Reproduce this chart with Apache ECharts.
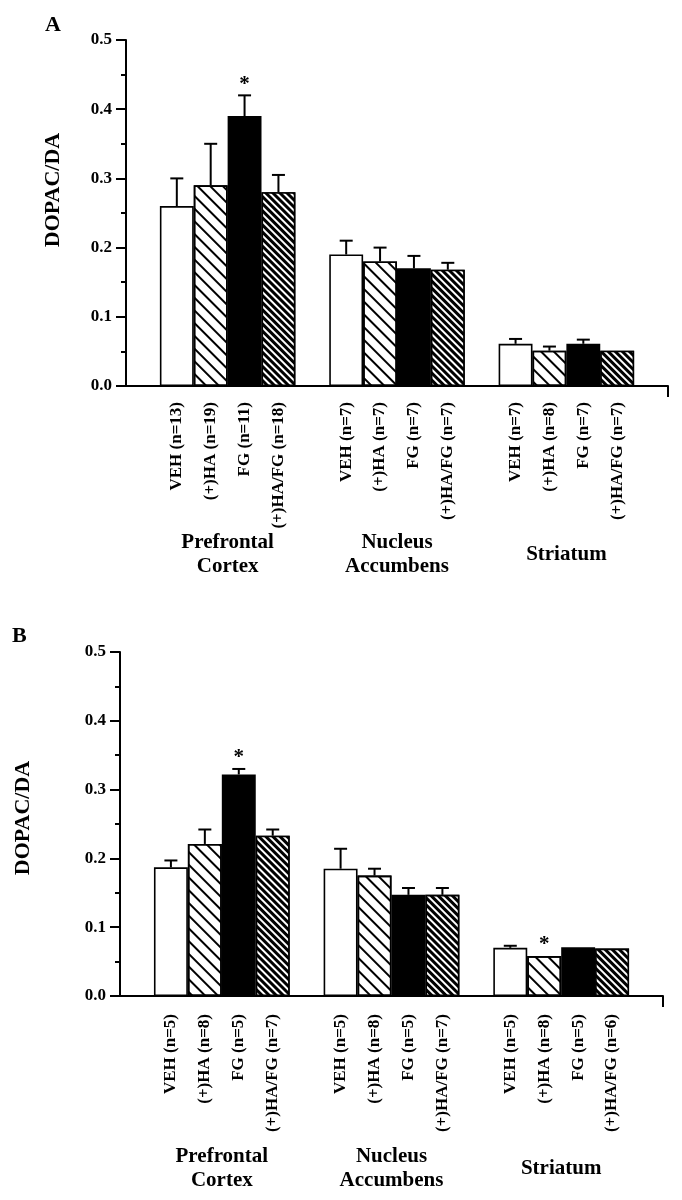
<!DOCTYPE html>
<html>
<head>
<meta charset="utf-8">
<script src="https://cdn.jsdelivr.net/npm/echarts@6/dist/echarts.min.js"></script>
<style>html,body{margin:0;padding:0;background:#fff}#c{width:682px;height:1200px}</style>
</head>
<body>
<div id="c"></div>
<script>
// ---- data ----
const regions = ['Prefrontal\nCortex', 'Nucleus\nAccumbens', 'Striatum'];
const treatments = ['VEH', '(+)HA', 'FG', '(+)HA/FG'];
const yTicks = [0, 0.1, 0.2, 0.3, 0.4, 0.5];

const nA = [[13, 19, 11, 18], [7, 7, 7, 7], [7, 8, 7, 7]];
const meanA = [[0.26, 0.29, 0.39, 0.28], [0.19, 0.18, 0.17, 0.168], [0.061, 0.051, 0.061, 0.051]];
const semA = [[0.04, 0.06, 0.03, 0.025], [0.02, 0.02, 0.018, 0.01], [0.007, 0.006, 0.006, 0.002]];
const sigA = [[0, 0, 1, 0], [0, 0, 0, 0], [0, 0, 0, 0]];

const nB = [[5, 8, 5, 7], [5, 8, 5, 7], [5, 8, 5, 6]];
const meanB = [[0.187, 0.221, 0.322, 0.233], [0.185, 0.175, 0.147, 0.147], [0.070, 0.058, 0.071, 0.069]];
const semB = [[0.010, 0.021, 0.008, 0.009], [0.029, 0.010, 0.010, 0.010], [0.003, 0.001, 0.002, 0.001]];
const sigB = [[0, 0, 1, 0], [0, 0, 0, 0], [0, 1, 0, 0]];

// ---- styles ----
const FONT = 'Liberation Serif';
const styles = [
  { color: '#fff', borderColor: '#000', borderWidth: 1.6 },
  { color: '#fff', borderColor: '#000', borderWidth: 1.6,
    decal: { symbol: 'rect', symbolSize: 1, color: '#000', dashArrayX: [1, 0], dashArrayY: [1.8, 6.5], rotation: Math.PI / 4 } },
  { color: '#000', borderColor: '#000', borderWidth: 1.6 },
  { color: '#000', borderColor: '#000', borderWidth: 1.6,
    decal: { symbol: 'rect', symbolSize: 1, color: '#fff', dashArrayX: [1, 0], dashArrayY: [1.4, 2.2], rotation: Math.PI / 4 } }
];

// 16 slots: blank, 4 bars, blank, 4 bars, blank, 4 bars, blank
function build(n, mean, sem, sig) {
  const cats = [], bars = [], errs = [];
  let slot = 0;
  cats.push(''); bars.push('-'); slot++;
  for (let g = 0; g < 3; g++) {
    for (let t = 0; t < 4; t++) {
      cats.push(treatments[t] + ' (n=' + n[g][t] + ')');
      bars.push({ value: mean[g][t], itemStyle: styles[t] });
      errs.push([slot, mean[g][t], mean[g][t] + sem[g][t], sig[g][t]]);
      slot++;
    }
    cats.push(''); bars.push('-'); slot++;
  }
  return { cats, bars, errs };
}
const A = build(nA, meanA, semA, sigA);
const B = build(nB, meanB, semB, sigB);
const groupPts = [];
for (let i = 0; i <= 16; i++) groupPts.push(i === 3 ? regions[0] : i === 8 ? regions[1] : i === 13 ? regions[2] : '');

function errRender(params, api) {
  const x = api.value(0);
  const p0 = api.coord([x, api.value(1)]);
  const p1 = api.coord([x, api.value(2)]);
  const ch = [];
  if (p0[1] - p1[1] > 1.5) {
    ch.push({ type: 'line', shape: { x1: p0[0], y1: p0[1], x2: p1[0], y2: p1[1] }, style: { stroke: '#000', lineWidth: 2 } });
    ch.push({ type: 'line', shape: { x1: p1[0] - 6.5, y1: p1[1], x2: p1[0] + 6.5, y2: p1[1] }, style: { stroke: '#000', lineWidth: 2 } });
  }
  if (api.value(3)) {
    ch.push({ type: 'text', style: { text: '*', x: p1[0], y: p1[1] - 11, align: 'center', verticalAlign: 'middle', font: 'bold 21px "' + FONT + '"', fill: '#000' } });
  }
  return { type: 'group', children: ch };
}

function yAxis(gridIndex, gap, pad) {
  return {
    type: 'value', gridIndex, min: 0, max: 0.5, interval: 0.1,
    name: 'DOPAC/DA', nameLocation: 'middle', nameGap: gap,
    nameTextStyle: { fontFamily: FONT, fontWeight: 'bold', fontSize: 22, color: '#000', padding: [0, 0, 0, pad] },
    axisLine: { show: true, lineStyle: { color: '#000', width: 2 } },
    axisTick: { show: true, length: 10, lineStyle: { color: '#000', width: 2 } },
    minorTick: { show: true, splitNumber: 2, length: 5, lineStyle: { color: '#000', width: 2 } },
    splitLine: { show: false },
    axisLabel: { fontFamily: FONT, fontWeight: 'bold', fontSize: 17, color: '#000', margin: 14, formatter: v => v.toFixed(1) }
  };
}
function barAxis(gridIndex, cats, margin) {
  return {
    type: 'category', gridIndex, data: cats, position: 'bottom',
    axisLine: { show: true, onZero: false, lineStyle: { color: '#000', width: 2 } },
    axisTick: { show: false },
    axisLabel: { interval: 0, rotate: 90, margin, fontFamily: FONT, fontWeight: 'bold', fontSize: 17, color: '#000' }
  };
}
function groupAxis(gridIndex, margin) {
  return {
    type: 'category', gridIndex, data: groupPts, boundaryGap: false, position: 'bottom',
    axisLine: { show: false, onZero: false },
    axisTick: { show: true, length: 11, interval: (i) => i === 16, lineStyle: { color: '#000', width: 2 } },
    axisLabel: { interval: 0, margin, verticalAlign: 'middle', align: 'center', lineHeight: 24,
      fontFamily: FONT, fontWeight: 'bold', fontSize: 21, color: '#000' }
  };
}

const option = {
  backgroundColor: '#fff',
  animation: false,
  title: [
    { text: 'A', left: 40, top: 9, textStyle: { fontFamily: FONT, fontWeight: 'bold', fontSize: 22, color: '#000' } },
    { text: 'B', left: 7, top: 620, textStyle: { fontFamily: FONT, fontWeight: 'bold', fontSize: 22, color: '#000' } }
  ],
  grid: [
    { left: 126, top: 40, width: 542, height: 346 },
    { left: 120, top: 652, width: 543, height: 344 }
  ],
  xAxis: [
    barAxis(0, A.cats, 16), groupAxis(0, 169),
    barAxis(1, B.cats, 18), groupAxis(1, 173)
  ],
  yAxis: [yAxis(0, 62, 46), yAxis(1, 86, 12)],
  series: [
    { type: 'bar', xAxisIndex: 0, yAxisIndex: 0, data: A.bars, barWidth: '100%', barGap: '0%' },
    { type: 'custom', xAxisIndex: 0, yAxisIndex: 0, data: A.errs, renderItem: errRender, encode: { x: 0, y: [1, 2] }, z: 5 },
    { type: 'bar', xAxisIndex: 2, yAxisIndex: 1, data: B.bars, barWidth: '100%', barGap: '0%' },
    { type: 'custom', xAxisIndex: 2, yAxisIndex: 1, data: B.errs, renderItem: errRender, encode: { x: 0, y: [1, 2] }, z: 5 }
  ]
};
const chart = echarts.init(document.getElementById('c'), null, { renderer: 'canvas' });
chart.setOption(option);
</script>
</body>
</html>
